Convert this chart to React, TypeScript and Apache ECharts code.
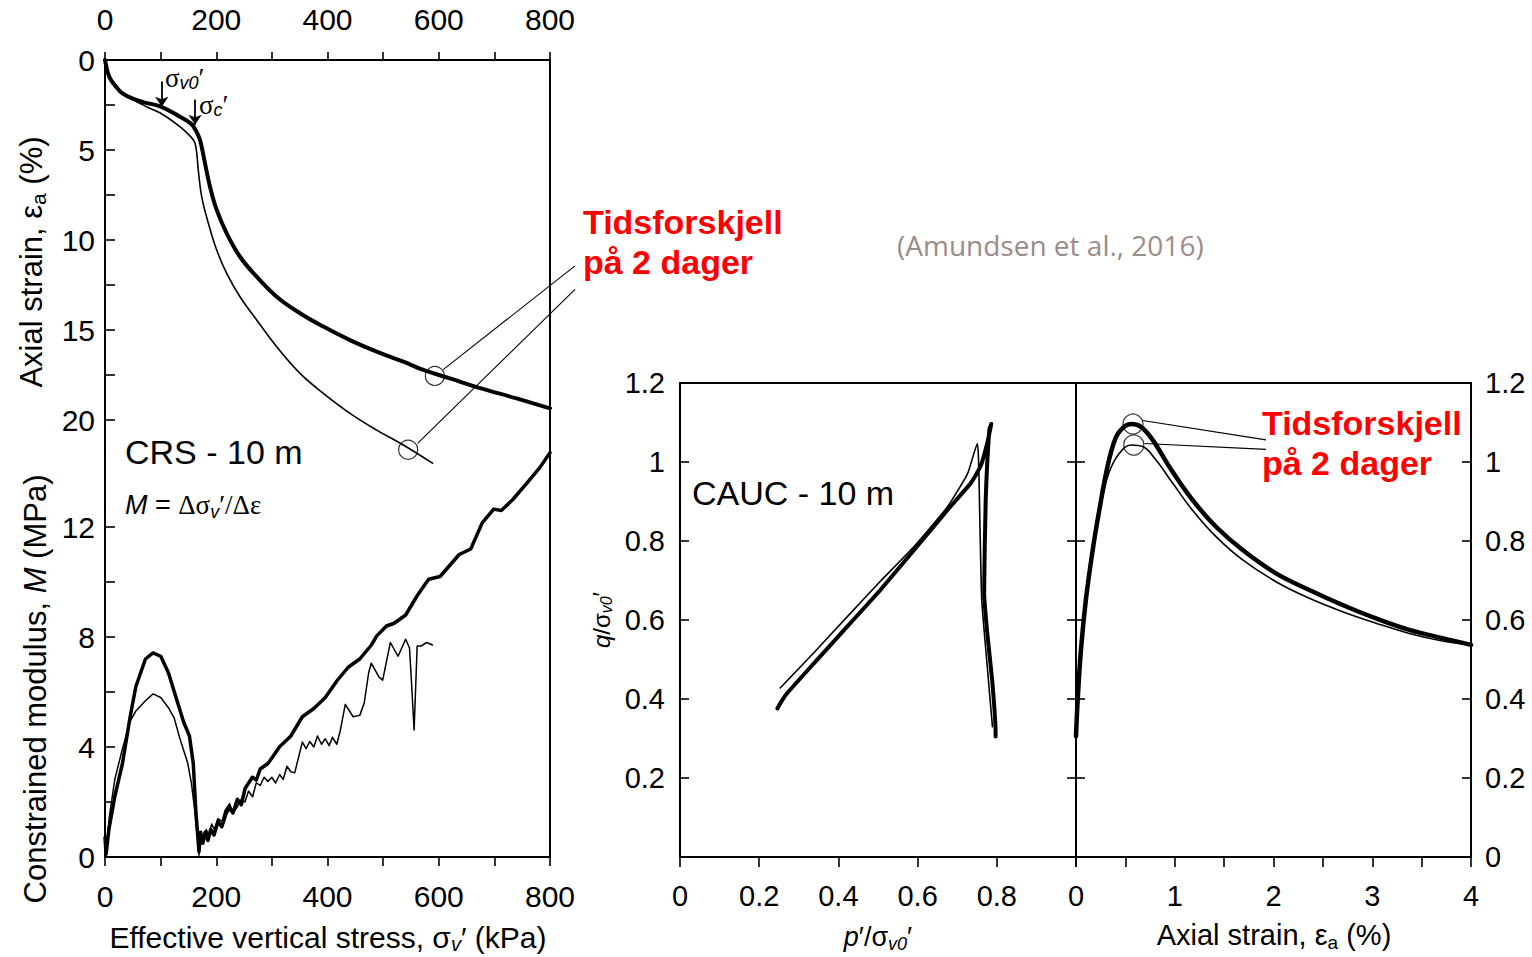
import React, { useEffect, useRef } from "react";
import * as echarts from "echarts";

const FONT = '"Liberation Sans", Arial, Helvetica, sans-serif';
const SERIF = '"Liberation Serif", "Times New Roman", serif';

// ---------- CRS: axial strain (%) vs effective vertical stress (kPa) ----------
const strainThick: [number, number][] = [
  [0, 0], [2, 0.3], [5, 0.7], [10.7, 1.11], [20, 1.5], [31.4, 1.85], [50, 2.15], [70, 2.35],
  [100.2, 2.59], [134.6, 3.15], [155, 3.55], [162, 3.85], [167, 4.15], [170.8, 4.44], [175, 5.0],
  [179.8, 5.74], [188.8, 7.04], [200.8, 8.33], [218.8, 9.63], [242.7, 10.93], [272.7, 12.04],
  [308.6, 13.15], [350.6, 14.07], [392.5, 14.81], [440.4, 15.56], [488.4, 16.2], [536.3, 16.76],
  [572.3, 17.22], [620.2, 17.69], [671.3, 18.2], [740, 18.8], [800, 19.35],
];
const strainThin: [number, number][] = [
  [0, 0], [3, 0.5], [10, 1.0], [17.6, 1.3], [30, 1.75], [51.8, 2.22], [75, 2.6], [100.2, 2.96],
  [134.6, 3.7], [155.3, 4.3], [161.8, 4.63], [165, 5.2], [167.7, 6.11], [173.8, 7.59],
  [185.8, 9.07], [200.8, 10.56], [218.8, 11.85], [242.7, 13.15], [272.7, 14.44], [308.6, 15.93],
  [350.6, 17.41], [392.5, 18.52], [440.4, 19.63], [488.4, 20.56], [536.3, 21.39], [588.7, 22.4],
];

// ---------- CRS: constrained modulus M (MPa) vs effective vertical stress (kPa) ----------
const modulusThick: [number, number][] = [
  [0, 0.7], [2, 0.1], [7, 1.0], [17.6, 2.2], [31.4, 3.4], [45.2, 5.1], [55.5, 6.2], [72.7, 7.2],
  [86.4, 7.42], [100.2, 7.3], [114, 6.7], [127.7, 5.8], [141.5, 4.9], [151.8, 4.4], [158.7, 3.4],
  [163.5, 1.6], [169, 0.2], [172, 0.9], [175.9, 0.5], [180, 0.9], [185, 0.6], [190, 1.0],
  [196, 0.8], [203.4, 1.3], [210, 1.1], [218, 1.6], [224, 1.8], [230, 1.6], [238, 2.1],
  [245, 1.9], [252, 2.5], [258.4, 2.7], [265, 2.9], [272, 2.8], [279.1, 3.2], [292.8, 3.4],
  [300, 3.6], [313.5, 4.0], [334.1, 4.4], [354.8, 5.1], [375.4, 5.4], [396.1, 5.8], [416.7, 6.4],
  [437.3, 6.9], [458, 7.2], [478.6, 7.7], [488.9, 8.05], [506.1, 8.4], [519.9, 8.5], [540.5, 8.8],
  [561.2, 9.5], [581.8, 10.1], [602.4, 10.2], [636.8, 11.0], [657.5, 11.2], [678.1, 12.15],
  [698.8, 12.65], [712.5, 12.6], [733.2, 13.0], [760.7, 13.65], [781.3, 14.15], [800, 14.7],
];
const modulusThin: [number, number][] = [
  [0, 0.7], [3, 0.5], [8, 1.5], [17.6, 2.82], [31.4, 3.94], [45.2, 4.93], [55.5, 5.31],
  [72.7, 5.68], [86.4, 5.93], [100.2, 5.8], [114, 5.43], [124.3, 5.06], [134.6, 4.31],
  [148.4, 3.44], [155.3, 2.69], [162.1, 1.57], [169, 0.07], [172, 0.8], [175.9, 0.5], [182, 1.0],
  [186.2, 0.8], [192, 1.2], [196.5, 1.0], [203, 1.4], [210.3, 1.3], [216, 1.7], [224, 1.94],
  [230, 1.6], [237.8, 1.82], [245, 2.1], [251.6, 2.0], [258, 2.4], [265.3, 2.19], [272, 2.7],
  [279.1, 2.6], [286, 2.9], [292.8, 2.75], [300, 2.9], [306.6, 2.69], [314, 3.0], [320.4, 2.82],
  [327, 3.3], [334.1, 3.1], [341, 3.06], [354.8, 4.18], [361.6, 3.94], [368, 4.2], [375.4, 4.0],
  [382, 4.4], [389.2, 4.1], [396, 4.3], [402.9, 4.05], [409, 4.35], [416.7, 4.1], [423, 4.6],
  [432, 5.55], [446, 5.1], [458, 5.15], [466, 5.6], [474, 6.7], [478.6, 7.05], [492.4, 6.55],
  [499.2, 6.43], [513, 7.8], [526.8, 7.3], [540.5, 7.92], [547.4, 7.6], [550.8, 6.43],
  [555.7, 4.62], [561.2, 7.67], [568, 7.67], [578.3, 7.8], [588.7, 7.71],
];

// ---------- CAUC: stress path q/σv0' vs p'/σv0' ----------
const pathThick: [number, number][] = [
  [0.246, 0.376], [0.255, 0.392], [0.27, 0.414], [0.338, 0.49], [0.422, 0.583], [0.506, 0.676],
  [0.591, 0.777], [0.675, 0.878], [0.734, 0.946], [0.759, 0.989], [0.776, 1.048], [0.786, 1.096],
  [0.781, 1.081], [0.772, 0.904], [0.768, 0.668], [0.776, 0.566], [0.789, 0.44], [0.797, 0.313],
  [0.797, 0.305],
];
const pathThin: [number, number][] = [
  [0.253, 0.428], [0.338, 0.517], [0.422, 0.608], [0.506, 0.698], [0.591, 0.786], [0.675, 0.886],
  [0.726, 0.97], [0.751, 1.047], [0.754, 1.004], [0.757, 0.862], [0.762, 0.651], [0.776, 0.481],
  [0.789, 0.33],
];

// ---------- CAUC: q/σv0' vs axial strain (%) ----------
const qStrainThick: [number, number][] = [
  [0, 0.305], [0.017, 0.397], [0.05, 0.524], [0.1, 0.651], [0.169, 0.777], [0.236, 0.878],
  [0.304, 0.971], [0.371, 1.039], [0.439, 1.077], [0.557, 1.096], [0.658, 1.089], [0.776, 1.056],
  [0.945, 0.988], [1.18, 0.904], [1.418, 0.836], [1.688, 0.777], [2.025, 0.718], [2.363, 0.676],
  [2.7, 0.638], [3.038, 0.604], [3.375, 0.575], [3.71, 0.554], [4.0, 0.537],
];
const qStrainThin: [number, number][] = [
  [0, 0.31], [0.02, 0.42], [0.068, 0.566], [0.135, 0.718], [0.203, 0.828], [0.27, 0.912],
  [0.337, 0.975], [0.439, 1.022], [0.557, 1.043], [0.675, 1.039], [0.81, 1.005], [0.98, 0.946],
  [1.18, 0.878], [1.418, 0.811], [1.688, 0.752], [2.025, 0.697], [2.363, 0.655], [2.7, 0.621],
  [3.038, 0.592], [3.375, 0.566], [3.71, 0.547], [4.0, 0.537],
];

// ---------- annotation marks (data coordinates) ----------
const strainCircles: [number, number][] = [[593, 17.55], [545, 21.65]];
const strainLeaders: [number, number][][] = [
  [[608, 17.2], [845, 11.44]],
  [[562, 21.3], [845, 12.74]],
];
const qCircles: [number, number][] = [[0.577, 1.096], [0.585, 1.043]];
const qLeaders: [number, number][][] = [
  [[0.675, 1.105], [1.924, 1.056]],
  [[0.692, 1.047], [1.924, 1.032]],
];
const stressArrows: [number, number][][] = [
  [[102, 1.2], [102, 2.6]],
  [[162, 2.2], [162, 3.6]],
];

// ---------- ticks & labels ----------
const stressTicks = [0, 100, 200, 300, 400, 500, 600, 700, 800];
const stressLabels = [0, 200, 400, 600, 800];
const strainTicks = [0, 2.5, 5, 7.5, 10, 12.5, 15, 17.5, 20];
const strainLabels = [0, 5, 10, 15, 20];
const modulusTicks = [0, 2, 4, 6, 8, 10, 12];
const modulusLabels = [0, 4, 8, 12];
const pTicks = [0, 0.2, 0.4, 0.6, 0.8, 1];
const pLabels = [0, 0.2, 0.4, 0.6, 0.8];
const qTicks = [0.2, 0.4, 0.6, 0.8, 1, 1.2];
const qLabelsLeft = [0.2, 0.4, 0.6, 0.8, 1, 1.2];
const qLabelsRight = [0, 0.2, 0.4, 0.6, 0.8, 1, 1.2];
const epsTicks = [0, 0.5, 1, 1.5, 2, 2.5, 3, 3.5, 4];
const epsLabels = [0, 1, 2, 3, 4];

const BLACK = "#000";

function axisCommon(extra: any) {
  return {
    type: "value",
    splitLine: { show: false },
    axisLine: { show: true, onZero: false, lineStyle: { color: BLACK, width: 2 } },
    ...extra,
  };
}
function ticks(values: number[], inside: boolean, length: number) {
  return { show: true, customValues: values, inside, length, lineStyle: { color: BLACK, width: 1.6 } };
}
function labels(values: number[], margin: number, size = 30) {
  return { show: true, customValues: values, margin, fontSize: size, color: BLACK, fontFamily: FONT };
}
const noTick = { show: false };
const noLabel = { show: false };

function txt(x: number, y: number, text: string, rich: any, extra: any = {}) {
  return {
    type: "text",
    x,
    y,
    rotation: extra.rotation || 0,
    z: 100,
    style: {
      text,
      rich,
      fill: BLACK,
      fontFamily: FONT,
      fontSize: extra.fontSize || 30,
      align: extra.align || "left",
      textAlign: extra.align || "left",
      verticalAlign: extra.verticalAlign || "middle",
      textVerticalAlign: extra.verticalAlign || "middle",
    },
  };
}

function richSet(size: number, subSize: number, subLh: number, lh: number) {
  return {
    n: { fontSize: size, fontFamily: FONT, fill: BLACK, lineHeight: lh },
    i: { fontSize: size, fontFamily: FONT, fontStyle: "italic", fill: BLACK, lineHeight: lh },
    g: { fontSize: size, fontFamily: SERIF, fill: BLACK, lineHeight: lh },
    s: { fontSize: subSize, fontFamily: FONT, fill: BLACK, lineHeight: subLh, verticalAlign: "bottom" },
    si: { fontSize: subSize, fontFamily: FONT, fontStyle: "italic", fill: BLACK, lineHeight: subLh, verticalAlign: "bottom" },
  };
}

export default function App() {
  const ref = useRef<HTMLDivElement>(null);

  useEffect(() => {
    document.body.style.margin = "0";
    if (!ref.current) return;
    const chart = echarts.init(ref.current, undefined, { renderer: "svg" });

    const lineSeries = (data: [number, number][], xi: number, yi: number, w: number, smooth: any = false) => ({
      type: "line",
      data,
      xAxisIndex: xi,
      yAxisIndex: yi,
      showSymbol: false,
      symbol: "none",
      smooth,
      clip: false,
      lineStyle: { color: BLACK, width: w, cap: "round", join: "round" },
      z: 5,
    });

    const r31 = richSet(31, 21, 12, 35);
    const r29 = richSet(29, 19, 12, 33);
    const r24 = richSet(24, 16, 10, 26);
    const r27 = richSet(27, 18, 11, 31);
    const rSig = richSet(27, 18, 10, 28);

    const option: any = {
      animation: false,
      backgroundColor: "#fff",
      textStyle: { fontFamily: FONT },
      grid: [
        { left: 105, top: 60, width: 445, height: 405, outerBoundsMode: "none", containLabel: false },
        { left: 105, top: 417, width: 445, height: 440, outerBoundsMode: "none", containLabel: false },
        { left: 680, top: 383, width: 396, height: 474, outerBoundsMode: "none", containLabel: false },
        { left: 1076, top: 383, width: 395, height: 474, outerBoundsMode: "none", containLabel: false },
      ],
      xAxis: [
        axisCommon({ gridIndex: 0, position: "top", min: 0, max: 800, interval: 100,
          axisTick: ticks(stressTicks, false, 8), axisLabel: labels(stressLabels, 26) }),
        axisCommon({ gridIndex: 1, position: "bottom", min: 0, max: 800, interval: 100,
          axisTick: ticks(stressTicks, false, 9), axisLabel: labels(stressLabels, 24) }),
        axisCommon({ gridIndex: 2, position: "bottom", min: 0, max: 1, interval: 0.2,
          axisTick: ticks(pTicks, false, 10), axisLabel: labels(pLabels, 24, 29) }),
        axisCommon({ gridIndex: 2, position: "top", min: 0, max: 1, axisTick: noTick, axisLabel: noLabel }),
        axisCommon({ gridIndex: 3, position: "bottom", min: 0, max: 4, interval: 0.5,
          axisTick: ticks(epsTicks, false, 10), axisLabel: labels(epsLabels, 24, 29) }),
        axisCommon({ gridIndex: 3, position: "top", min: 0, max: 4, axisTick: noTick, axisLabel: noLabel }),
      ],
      yAxis: [
        axisCommon({ gridIndex: 0, position: "left", inverse: true, min: 0, max: 22.5, interval: 2.5,
          axisTick: ticks(strainTicks, true, 10), axisLabel: labels(strainLabels, 10) }),
        axisCommon({ gridIndex: 0, position: "right", inverse: true, min: 0, max: 22.5, axisTick: noTick, axisLabel: noLabel }),
        axisCommon({ gridIndex: 1, position: "left", min: 0, max: 16, interval: 2,
          axisTick: ticks(modulusTicks, true, 10), axisLabel: labels(modulusLabels, 10) }),
        axisCommon({ gridIndex: 1, position: "right", min: 0, max: 16, axisTick: noTick, axisLabel: noLabel }),
        axisCommon({ gridIndex: 2, position: "left", min: 0, max: 1.2, interval: 0.2,
          axisTick: ticks(qTicks, true, 9), axisLabel: labels(qLabelsLeft, 15, 29) }),
        axisCommon({ gridIndex: 2, position: "right", min: 0, max: 1.2, interval: 0.2,
          axisTick: ticks(qTicks, true, 9), axisLabel: noLabel }),
        axisCommon({ gridIndex: 3, position: "left", min: 0, max: 1.2, interval: 0.2,
          axisTick: ticks(qTicks, true, 9), axisLabel: noLabel }),
        axisCommon({ gridIndex: 3, position: "right", min: 0, max: 1.2, interval: 0.2,
          axisTick: ticks(qTicks, true, 9), axisLabel: labels(qLabelsRight, 14, 29) }),
      ],
      series: [
        lineSeries(strainThick, 0, 0, 4, 0.4),
        lineSeries(strainThin, 0, 0, 1.6, 0.4),
        lineSeries(modulusThick, 1, 2, 3.5, false),
        lineSeries(modulusThin, 1, 2, 1.5, false),
        lineSeries(pathThick, 2, 4, 4, 0.15),
        lineSeries(pathThin, 2, 4, 1.6, 0.15),
        lineSeries(qStrainThick, 4, 6, 4.5, 0.4),
        lineSeries(qStrainThin, 4, 6, 1.6, 0.4),
        {
          type: "scatter", data: strainCircles, xAxisIndex: 0, yAxisIndex: 0, symbol: "circle", symbolSize: 19,
          clip: false, z: 10,
          itemStyle: { color: "rgba(0,0,0,0)", borderColor: BLACK, borderWidth: 1.2 },
        },
        {
          type: "scatter", data: qCircles, xAxisIndex: 4, yAxisIndex: 6, symbol: "circle", symbolSize: 20,
          clip: false, z: 10,
          itemStyle: { color: "rgba(0,0,0,0)", borderColor: BLACK, borderWidth: 1.2 },
        },
        {
          type: "lines", coordinateSystem: "cartesian2d", xAxisIndex: 0, yAxisIndex: 0, clip: false,
          data: strainLeaders.map((c) => ({ coords: c })), symbol: "none",
          lineStyle: { color: BLACK, width: 1.1, opacity: 1 }, z: 10,
        },
        {
          type: "lines", coordinateSystem: "cartesian2d", xAxisIndex: 4, yAxisIndex: 6, clip: false,
          data: qLeaders.map((c) => ({ coords: c })), symbol: "none",
          lineStyle: { color: BLACK, width: 1.1, opacity: 1 }, z: 10,
        },
        {
          type: "lines", coordinateSystem: "cartesian2d", xAxisIndex: 0, yAxisIndex: 0, clip: false,
          data: stressArrows.map((c) => ({ coords: c })), symbol: ["none", "arrow"], symbolSize: [0, 10],
          lineStyle: { color: BLACK, width: 1.8, opacity: 1 }, itemStyle: { color: BLACK }, z: 10,
        },
      ],
      graphic: [
        // arrow labels
        txt(165, 78, "{g|σ}{si|v0}{g|′}", rSig),
        txt(199, 105, "{g|σ}{si|c}{g|′}", rSig),
        // panel texts
        txt(125, 452, "{n|CRS - 10 m}", richSet(34, 22, 12, 38)),
        txt(125, 505, "{i|M}{n| = }{g|Δσ}{si|v}{g|′/Δε}", r27),
        txt(692, 493, "{n|CAUC - 10 m}", richSet(34, 22, 12, 38)),
        // axis titles
        txt(31, 262, "{n|Axial strain, ε}{s|a}{n| (%)}", r31, { rotation: Math.PI / 2, align: "center" }),
        txt(35, 689, "{n|Constrained modulus, }{i|M}{n| (MPa)}", r31, { rotation: Math.PI / 2, align: "center" }),
        txt(328, 937, "{n|Effective vertical stress, σ}{si|v}{n|′ (kPa)}", richSet(30, 20, 12, 34), { align: "center" }),
        txt(601, 620, "{i|q}{n|/σ}{si|v0}{n|′}", r24, { rotation: Math.PI / 2, align: "center" }),
        txt(878, 937, "{i|p}{n|′/σ}{si|v0}{n|′}", r27, { align: "center" }),
        txt(1274, 935, "{n|Axial strain, ε}{s|a}{n| (%)}", r29, { align: "center" }),
        // red annotations
        {
          type: "text", x: 583, y: 202, z: 100,
          style: {
            text: "Tidsforskjell\npå 2 dager", fill: "#ff0000", fontFamily: FONT, fontSize: 34,
            fontWeight: "bold", lineHeight: 40, align: "left", textAlign: "left",
            verticalAlign: "top", textVerticalAlign: "top",
          },
        },
        {
          type: "text", x: 1262, y: 403, z: 100,
          style: {
            text: "Tidsforskjell\npå 2 dager", fill: "#ff0000", fontFamily: FONT, fontSize: 34,
            fontWeight: "bold", lineHeight: 40, align: "left", textAlign: "left",
            verticalAlign: "top", textVerticalAlign: "top",
          },
        },
        {
          type: "text", x: 897, y: 245, z: 100,
          style: {
            text: "(Amundsen et al., 2016)", fill: "#9d8b87", fontFamily: '"Open Sans", "Noto Sans", sans-serif',
            fontSize: 28, align: "left", textAlign: "left", verticalAlign: "middle", textVerticalAlign: "middle",
          },
        },
      ],
    };

    chart.setOption(option);
    return () => chart.dispose();
  }, []);

  return (
    <div
      ref={ref}
      style={{ position: "fixed", left: 0, top: 0, width: 1532, height: 957, background: "#fff" }}
    />
  );
}
